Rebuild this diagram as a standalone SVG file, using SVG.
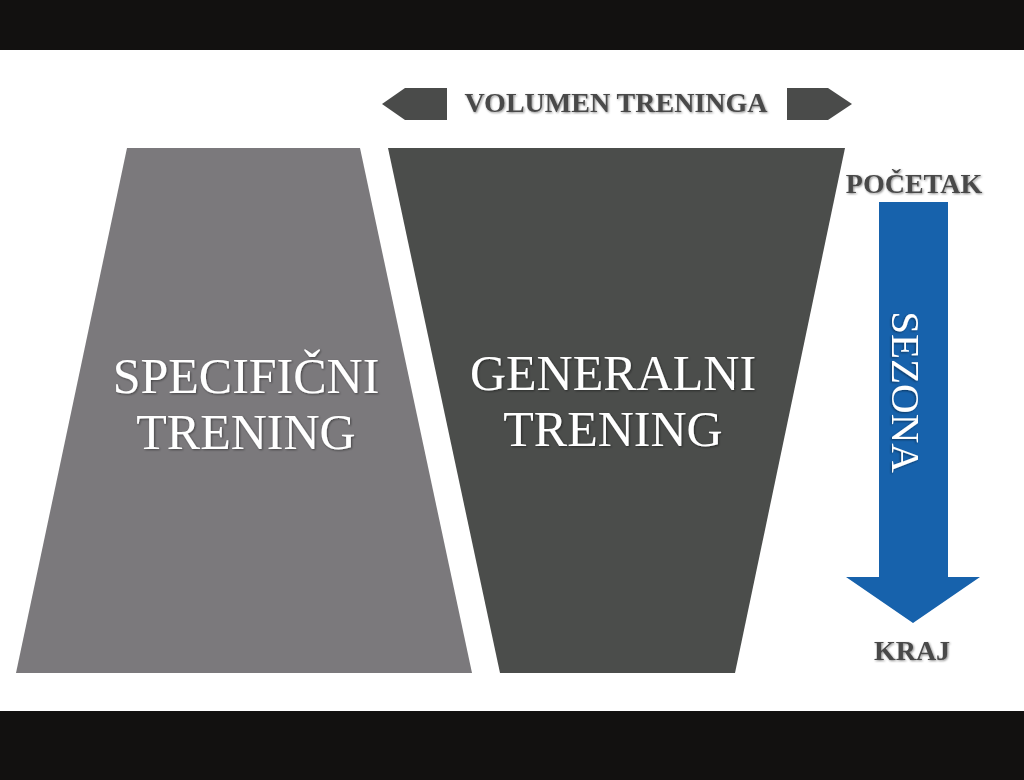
<svg xmlns="http://www.w3.org/2000/svg" width="1024" height="780" viewBox="0 0 1024 780">
<defs>
<style>
.lbl{font-family:"Liberation Serif","Times New Roman",serif;}
.big{font-size:50px;fill:#ffffff;text-anchor:middle;}
.hdr{font-size:28px;font-weight:bold;fill:#4a4a4a;text-anchor:middle;}
</style>
<filter id="sh" x="-10%" y="-20%" width="120%" height="140%">
<feDropShadow dx="1" dy="1" stdDeviation="0.8" flood-color="#000" flood-opacity="0.45"/>
</filter>
</defs>
<rect x="0" y="0" width="1024" height="780" fill="#ffffff"/>
<rect x="0" y="0" width="1024" height="50" fill="#121110"/>
<rect x="0" y="711" width="1024" height="69" fill="#121110"/>

<g id="specificni">
<polygon points="127,148 360,148 472,673 16,673" fill="#7b797c"/>
<text class="lbl big" filter="url(#sh)" x="246" y="393">SPECIFIČNI</text>
<text class="lbl big" filter="url(#sh)" x="246" y="449">TRENING</text>
</g>

<g id="generalni">
<polygon points="388,148 845,148 735,673 500,673" fill="#4b4d4b"/>
<text class="lbl big" filter="url(#sh)" x="613" y="390">GENERALNI</text>
<text class="lbl big" filter="url(#sh)" x="613" y="446">TRENING</text>
</g>

<g id="volumen">
<polygon points="382,104 405,88 447,88 447,120 405,120" fill="#4a4b4a"/>
<polygon points="787,88 828,88 852,104 828,120 787,120" fill="#4a4b4a"/>
<text class="lbl hdr" filter="url(#sh)" x="616" y="112">VOLUMEN TRENINGA</text>
</g>

<g id="sezona">
<text class="lbl hdr" filter="url(#sh)" x="914" y="193">POČETAK</text>
<polygon points="879,202 948,202 948,577 980,577 913,623 846,577 879,577" fill="#1762ac"/>
<text class="lbl" filter="url(#sh)" font-size="41" fill="#ffffff" text-anchor="middle" transform="translate(892,392) rotate(90)">SEZONA</text>
<text class="lbl hdr" filter="url(#sh)" x="912" y="660">KRAJ</text>
</g>
</svg>
